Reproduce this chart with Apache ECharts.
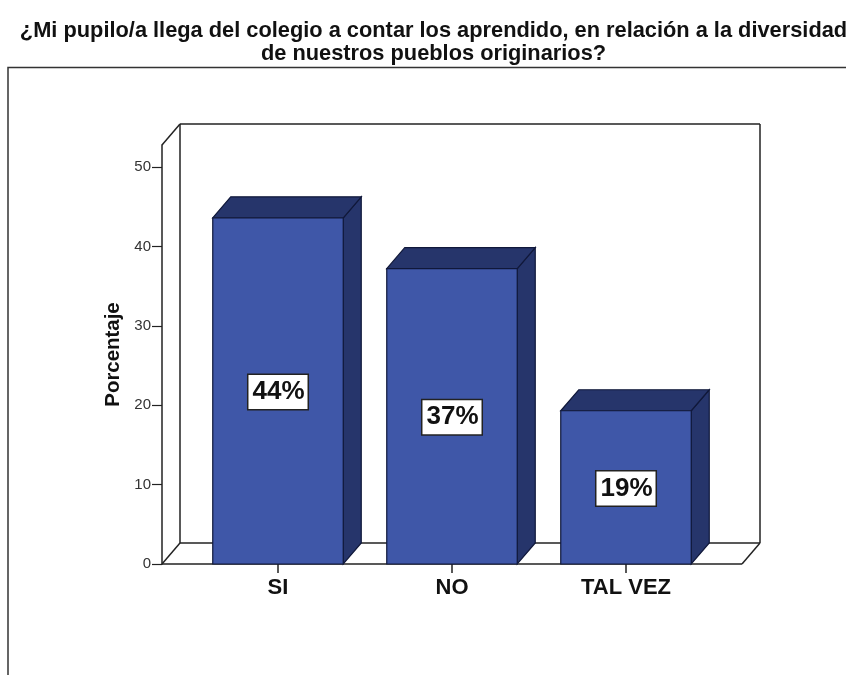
<!DOCTYPE html>
<html><head><meta charset="utf-8">
<style>html,body{margin:0;padding:0;background:#fff}#c{width:846px;height:675px}</style>
<script src="https://cdn.jsdelivr.net/npm/echarts@6/dist/echarts.min.js"></script>
</head><body><div id="c"></div>
<script>
const categories = ['SI', 'NO', 'TAL VEZ'];
const values = [43.6, 37.2, 19.3];
const labels = ['44%', '37%', '19%'];
const yTicks = [0, 10, 20, 30, 40, 50];
const titleLines = ['¿Mi pupilo/a llega del colegio a contar los aprendido, en relación a la diversidad', 'de nuestros pueblos originarios?'];
const yName = 'Porcentaje';

const DX = 18, DY = -21, PAD = 29, LINE = '#222';
const chart = echarts.init(document.getElementById('c'), null, {renderer: 'canvas'});

function poly(points, fill) {
  return {type: 'polygon', shape: {points}, style: {fill, stroke: '#10183a', lineWidth: 1.2}};
}
function seg(x1, y1, x2, y2) {
  return {type: 'line', shape: {x1, y1, x2, y2}, style: {stroke: LINE, lineWidth: 1.5}};
}

chart.setOption({
  animation: false,
  backgroundColor: '#fff',
  title: {
    text: titleLines.join('\n'), left: 428.5, top: 14, textAlign: 'center',
    textStyle: {fontFamily: 'Liberation Sans', fontSize: 21.8, fontWeight: 'bold', color: '#111', lineHeight: 23}
  },
  graphic: [
    {type: 'polyline', shape: {points: [[846, 67.5], [8, 67.5], [8, 675]]}, style: {fill: null, stroke: '#333', lineWidth: 1.5}}
  ],
  grid: {left: 191, width: 522, top: 145, height: 419},
  xAxis: {
    type: 'category', data: categories,
    axisLine: {show: false},
    axisTick: {show: true, alignWithLabel: true, length: 9, lineStyle: {color: LINE, width: 1.5}},
    axisLabel: {fontFamily: 'Liberation Sans', fontSize: 22, color: '#111', margin: 13, fontWeight: 'bold'}
  },
  yAxis: {
    type: 'value', min: 0, max: 52.77, offset: PAD,
    name: yName, nameLocation: 'middle', nameRotate: 90, nameGap: 39,
    nameTextStyle: {fontFamily: 'Liberation Sans', fontSize: 20.4, fontWeight: 'bold', color: '#111'},
    splitLine: {show: false},
    axisLine: {show: true, lineStyle: {color: LINE, width: 1.5}},
    axisTick: {show: true, length: 10, customValues: yTicks, lineStyle: {color: LINE, width: 1.2}},
    axisLabel: {fontFamily: 'Liberation Sans', fontSize: 15, color: '#333', margin: 11, padding: [6, 0, 0, 0], customValues: yTicks}
  },
  series: [
    {
      type: 'custom', z: 1, silent: true,
      data: [[0, 0]],
      encode: {x: 0, y: 1},
      renderItem(params, api) {
        const cs = params.coordSys;
        const l = cs.x - PAD, r = cs.x + cs.width + PAD, t = cs.y, b = cs.y + cs.height;
        return {type: 'group', children: [
          seg(l + DX, t + DY, r + DX, t + DY),
          seg(l + DX, t + DY, l + DX, b + DY),
          seg(r + DX, t + DY, r + DX, b + DY),
          seg(l + DX, b + DY, r + DX, b + DY),
          seg(l, t, l + DX, t + DY),
          seg(l, b, l + DX, b + DY),
          seg(r, b, r + DX, b + DY),
          seg(l, b, r, b)
        ]};
      }
    },
    {
      type: 'custom', z: 2, silent: true,
      data: values.map((v, i) => [i, v]),
      encode: {x: 0, y: 1},
      renderItem(params, api) {
        const i = api.value(0), v = api.value(1);
        const top = api.coord([i, v]), base = api.coord([i, 0]);
        const w = api.size([1, 0])[0] * 0.75;
        const l = top[0] - w / 2, r = top[0] + w / 2, t = top[1], b = base[1];
        return {type: 'group', children: [
          poly([[r, t], [r + DX, t + DY], [r + DX, b + DY], [r, b]], '#26356b'),
          poly([[l, t], [l + DX, t + DY], [r + DX, t + DY], [r, t]], '#26356b'),
          poly([[l, t], [r, t], [r, b], [l, b]], '#3f57a8'),
          {type: 'text', x: top[0], y: (t + b) / 2 + 1, z2: 10, style: {
            text: labels[i], align: 'center', verticalAlign: 'middle',
            font: 'bold 26px "Liberation Sans"', fill: '#111',
            backgroundColor: '#fff', borderColor: '#222', borderWidth: 1.5, padding: [5, 3, 3, 4]
          }}
        ]};
      }
    }
  ]
});
</script></body></html>
